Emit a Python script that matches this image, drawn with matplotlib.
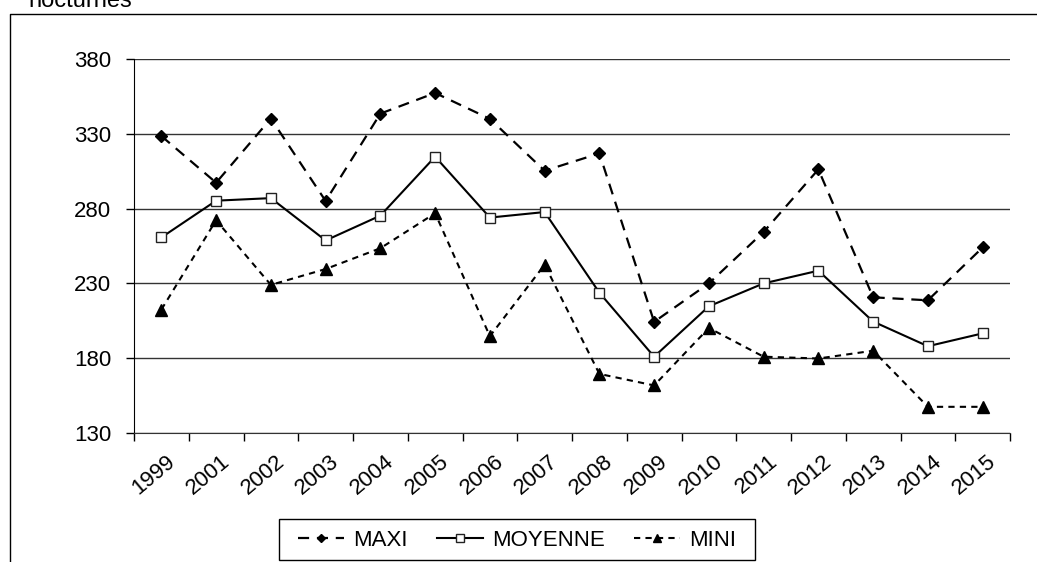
import numpy as np
import matplotlib
matplotlib.use("Agg")
import matplotlib.pyplot as plt
from matplotlib.lines import Line2D
from matplotlib.patches import Rectangle

plt.rcParams['font.family'] = ['Liberation Sans', 'DejaVu Sans']

years = ['1999', '2001', '2002', '2003', '2004', '2005', '2006', '2007',
         '2008', '2009', '2010', '2011', '2012', '2013', '2014', '2015']
maxi = [328.5, 297.3, 340.2, 285.1, 343.5, 357.3, 340.0, 305.3,
        316.9, 204.3, 230.0, 264.4, 306.2, 220.7, 218.7, 254.0]
moyenne = [260.7, 285.3, 287.0, 258.7, 275.3, 314.7, 274.0, 277.7,
           223.8, 181.0, 214.7, 230.0, 238.5, 204.5, 188.0, 196.6]
mini = [212.5, 272.2, 229.0, 239.6, 253.5, 276.9, 194.7, 242.5,
        169.5, 161.8, 200.2, 181.0, 179.8, 185.0, 147.5, 147.5]
yticks = [130, 180, 230, 280, 330, 380]

W, H = 1037, 562
fig = plt.figure(figsize=(W / 100, H / 100), dpi=100)
ax = fig.add_axes([134 / W, 1 - 433 / H, (1010 - 134) / W, (433 - 59) / H])

x = np.arange(len(years))

# gridlines
for v in yticks:
    ax.axhline(v, color='#333333', lw=1.0, zorder=1)

l1, = ax.plot(x, maxi, color='black', lw=1.6, dashes=(5, 3.5),
              marker='D', ms=6.5, mfc='black', mec='black', label='MAXI', zorder=3)
l2, = ax.plot(x, moyenne, color='black', lw=1.5, ls='-',
              marker='s', ms=7.5, mfc='white', mec='#222222', mew=1.0, label='MOYENNE', zorder=3)
l3, = ax.plot(x, mini, color='black', lw=1.5, dashes=(3, 2.5),
              marker='^', ms=8.5, mfc='black', mec='black', label='MINI', zorder=3)

ax.set_xlim(-0.5, len(years) - 0.5)
ax.set_ylim(130, 380)
ax.set_yticks(yticks)
ax.set_yticklabels([str(v) for v in yticks], fontsize=16)
ax.tick_params(axis='y', length=6, width=1, pad=10.5, direction='out')

ax.set_xticks(x + 0.08)
ax.set_xticklabels(years, fontsize=16, rotation=40, ha='right', rotation_mode='anchor')
ax.tick_params(axis='x', which='major', length=0, pad=13)
ax.set_xticks(np.arange(-0.5, len(years)), minor=True)
ax.tick_params(axis='x', which='minor', length=6, width=1, direction='out')

for s in ['top', 'right']:
    ax.spines[s].set_visible(False)
ax.spines['left'].set_color('black')
ax.spines['bottom'].set_color('#333333')

# legend, frame drawn separately
leg = fig.legend(handles=[l1, l2, l3], loc='center', bbox_to_anchor=(517 / W, 1 - 540 / H),
                 ncol=3, fontsize=16, frameon=False,
                 handlelength=2.1, columnspacing=1.3, handletextpad=0.4, markerscale=0.7)
fig.add_artist(Rectangle((279 / W, 1 - 560 / H), (755 - 279) / W, 41 / H,
                         transform=fig.transFigure, fill=False, ec='black', lw=1.0))

# outer frame of the original picture
fig.add_artist(Line2D([9.5 / W, 9.5 / W, 1.0], [0, 1 - 13.5 / H, 1 - 13.5 / H],
                      transform=fig.transFigure, color='black', lw=1.0))
fig.text(28 / W, 1 - 7 / H, 'nocturnes', fontsize=17, va='baseline', ha='left')

fig.savefig('out.png', dpi=100)
